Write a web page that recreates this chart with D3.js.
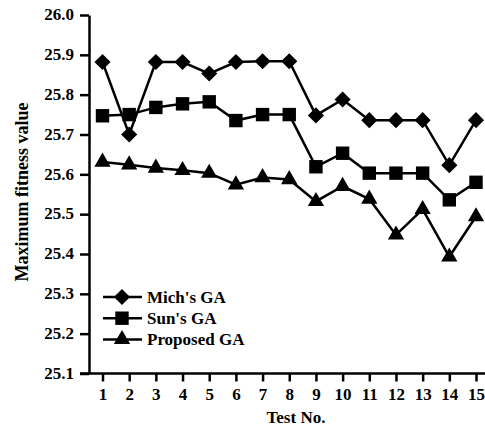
<!DOCTYPE html>
<html>
<head>
<meta charset="utf-8">
<script src="https://cdn.jsdelivr.net/npm/d3@7"></script>
<style>
  body { margin: 0; background: #fff; }
  svg text { font-family: "Liberation Serif", "Times New Roman", serif; font-weight: bold; fill: #000; }
</style>
</head>
<body>
<div id="chart"></div>
<script>
// data
var tests = [1, 2, 3, 4, 5, 6, 7, 8, 9, 10, 11, 12, 13, 14, 15];
var mich = [25.882, 25.700, 25.882, 25.882, 25.853, 25.882, 25.884, 25.884, 25.748, 25.788, 25.736, 25.736, 25.736, 25.623, 25.736];
var sun = [25.747, 25.750, 25.768, 25.777, 25.782, 25.735, 25.750, 25.750, 25.619, 25.653, 25.603, 25.603, 25.603, 25.536, 25.580];
var proposed = [25.631, 25.624, 25.616, 25.610, 25.603, 25.574, 25.592, 25.587, 25.532, 25.570, 25.538, 25.448, 25.512, 25.393, 25.494];
var yTicks = [25.1, 25.2, 25.3, 25.4, 25.5, 25.6, 25.7, 25.8, 25.9, 26.0];

var series = [
  {name: "Mich's GA", values: mich, symbol: d3.symbolSquare, size: 130, rotate: 45},
  {name: "Sun's GA", values: sun, symbol: d3.symbolSquare, size: 180, rotate: 0},
  {name: "Proposed GA", values: proposed, symbol: d3.symbolTriangle, size: 115, rotate: 0}
];

var width = 485, height = 427;

var svg = d3.select("#chart")
  .append("svg")
    .attr("width", width)
    .attr("height", height);

var x = d3.scaleLinear()
    .domain([1, 15])
    .range([102.5, 476]);

var y = d3.scaleLinear()
    .domain([25.1, 26.0])
    .range([373.5, 15]);

// X axis
var xAxis = svg.append("g")
    .attr("transform", "translate(0," + y(25.1) + ")")
    .call(d3.axisBottom(x).tickValues(tests).tickFormat(d3.format("d")).tickSize(8).tickSizeOuter(0));
xAxis.select(".domain").attr("d", "M80,0H485");

// Y axis
var yAxis = svg.append("g")
    .attr("transform", "translate(89,0)")
    .call(d3.axisLeft(y).tickValues(yTicks).tickFormat(d3.format(".1f")).tickSize(9).tickSizeOuter(0));

svg.selectAll("g").attr("font-family", null);
svg.selectAll(".domain").attr("stroke", "#000").attr("stroke-width", 2.5);
svg.selectAll(".tick line").attr("stroke", "#000").attr("stroke-width", 2.5);
svg.selectAll(".tick text")
    .style("font-size", "17px")
    .attr("fill", "#000");
xAxis.selectAll(".tick text").attr("dy", null).attr("y", 26);
yAxis.selectAll(".tick text").attr("x", -15).attr("dy", "0.28em");

// axis titles
svg.append("text")
    .attr("x", 296)
    .attr("y", 423)
    .attr("text-anchor", "middle")
    .style("font-size", "17px")
    .text("Test No.");

svg.append("text")
    .attr("transform", "translate(28,192)rotate(-90)")
    .attr("text-anchor", "middle")
    .style("font-size", "18px")
    .text("Maximum fitness value");

// lines and markers
var line = d3.line()
    .x(function(d, i) { return x(tests[i]); })
    .y(function(d) { return y(d); });

series.forEach(function(s) {
  svg.append("path")
      .datum(s.values)
      .attr("fill", "none")
      .attr("stroke", "#000")
      .attr("stroke-width", 2.5)
      .attr("d", line);

  svg.append("g")
    .selectAll("path")
    .data(s.values)
    .enter().append("path")
      .attr("transform", function(d, i) { return "translate(" + x(tests[i]) + "," + y(d) + ")rotate(" + s.rotate + ")"; })
      .attr("d", d3.symbol().type(s.symbol).size(s.size))
      .attr("fill", "#000");
});

// legend
var legend = svg.append("g");
series.forEach(function(s, i) {
  var ly = 297 + i * 21.2;
  legend.append("line")
      .attr("x1", 103).attr("x2", 142)
      .attr("y1", ly).attr("y2", ly)
      .attr("stroke", "#000")
      .attr("stroke-width", 2.5);
  legend.append("path")
      .attr("transform", "translate(122," + ly + ")rotate(" + s.rotate + ")")
      .attr("d", d3.symbol().type(s.symbol).size(s.size))
      .attr("fill", "#000");
  legend.append("text")
      .attr("x", 147)
      .attr("y", ly + 5.5)
      .style("font-size", "17px")
      .text(s.name);
});
</script>
</body>
</html>
